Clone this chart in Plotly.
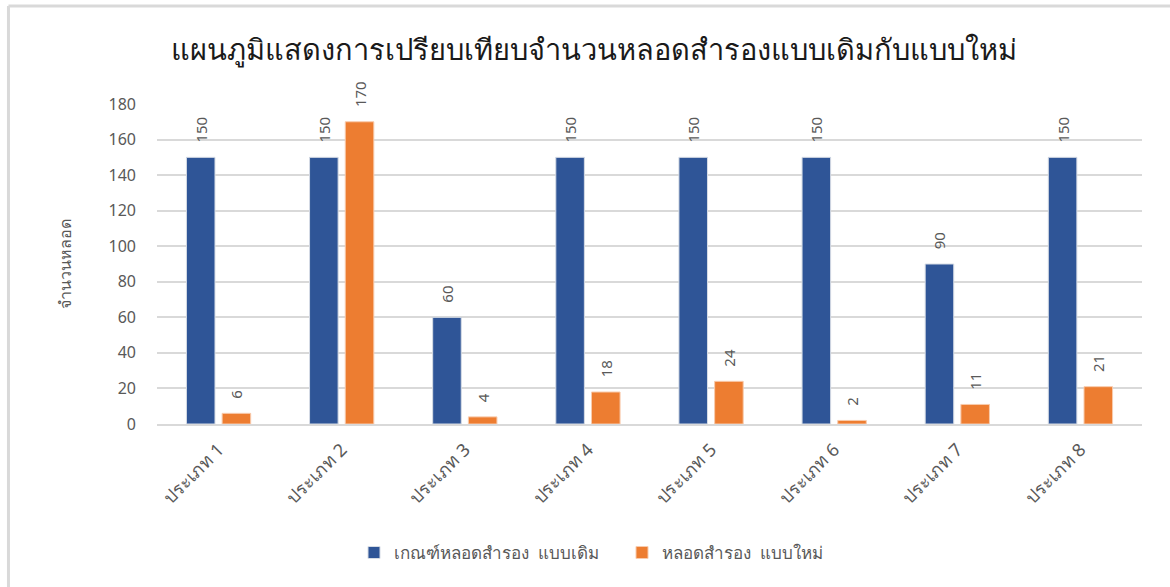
import plotly.graph_objects as go

categories = ["ประเภท 1", "ประเภท 2", "ประเภท 3", "ประเภท 4",
              "ประเภท 5", "ประเภท 6", "ประเภท 7", "ประเภท 8"]
old_values = [150, 150, 60, 150, 150, 150, 90, 150]
new_values = [6, 170, 4, 18, 24, 2, 11, 21]
series_names = ["เกณฑ์หลอดสำรอง  แบบเดิม", "หลอดสำรอง  แบบใหม่"]
y_ticks = [0, 20, 40, 60, 80, 100, 120, 140, 160, 180]

FONT = "Noto Sans, DejaVu Sans, sans-serif"
GRAY = "#595959"
LABEL_PAD = "\u00a0\u00a0\u00a0"

fig = go.Figure()
fig.add_trace(go.Bar(
    x=categories, y=old_values, name=series_names[0],
    marker=dict(color="#2F5597", line=dict(color="#D6DCE5", width=1)),
    texttemplate=LABEL_PAD + "%{y}", textposition="outside", textangle=-90,
    constraintext="none",
    textfont=dict(size=15, color=GRAY, family=FONT), cliponaxis=False,
))
fig.add_trace(go.Bar(
    x=categories, y=new_values, name=series_names[1],
    marker=dict(color="#ED7D31", line=dict(color="#F8CBAD", width=1)),
    texttemplate=LABEL_PAD + "%{y}", textposition="outside", textangle=-90,
    constraintext="none",
    textfont=dict(size=15, color=GRAY, family=FONT), cliponaxis=False,
))

fig.update_layout(
    width=1170, height=587,
    paper_bgcolor="white", plot_bgcolor="white",
    margin=dict(l=157, r=28, t=104, b=163),
    barmode="group", bargap=0.42, bargroupgap=0.2,
    title=dict(text="แผนภูมิแสดงการเปรียบเทียบจำนวนหลอดสำรองแบบเดิมกับแบบใหม่",
               x=0.508, xanchor="center", y=0.915, yanchor="middle",
               font=dict(size=29, color="#1a1a1a", family=FONT)),
    font=dict(family=FONT, color=GRAY),
    legend=dict(orientation="h", x=0.200, xanchor="left", y=-0.403, yanchor="middle",
                font=dict(size=17, color=GRAY), itemwidth=30, traceorder="normal",
                entrywidth=223, entrywidthmode="pixels"),
    uniformtext=dict(mode=False),
)
fig.update_xaxes(
    tickangle=-45, tickfont=dict(size=18, color=GRAY),
    showline=True, linecolor="#D9D9D9", linewidth=2, ticks="",
    ticklabelstandoff=6,
)
fig.update_yaxes(
    range=[0, 180], tickvals=y_ticks, tickfont=dict(size=16, color=GRAY),
    showgrid=True, gridcolor="#D9D9D9", gridwidth=2,
    zeroline=False, showline=False, ticklabelstandoff=20,
    title=dict(text="จำนวนหลอด", font=dict(size=16, color=GRAY), standoff=32),
)
# outer chart border (top and left edges visible in the reference)
fig.add_shape(type="line", xref="paper", yref="paper", x0=-0.1508, x1=1.03, y0=1.306, y1=1.306,
              line=dict(color="#D9D9D9", width=3))
fig.add_shape(type="line", xref="paper", yref="paper", x0=-0.1508, x1=-0.1508, y0=1.306, y1=-0.6,
              line=dict(color="#D9D9D9", width=3))

fig.write_html("out.html")
